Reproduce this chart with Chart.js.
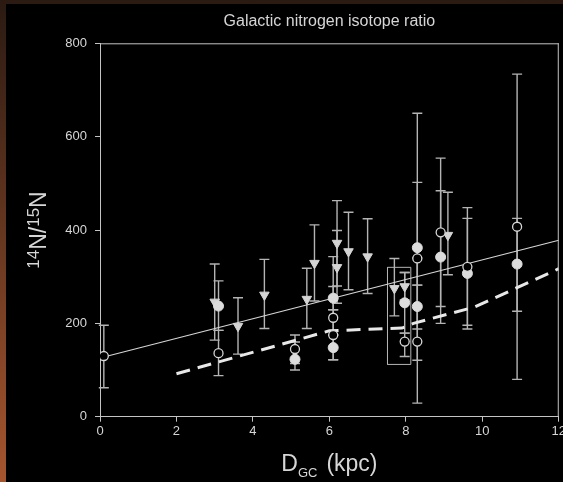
<!DOCTYPE html>
<html>
<head>
<meta charset="utf-8">
<title>Galactic nitrogen isotope ratio</title>
<script src="https://cdn.jsdelivr.net/npm/chart.js@4"></script>
<style>
  html, body { margin: 0; padding: 0; }
  body {
    width: 563px; height: 482px; position: relative; overflow: hidden;
    background: linear-gradient(to bottom, #2a1a12, #a5552e);
  }
  #panel { position: absolute; left: 6px; top: 4px; right: 0; bottom: 0; background: #000; }
  #chart { position: absolute; left: 0; top: 0; }
</style>
</head>
<body>
<div id="panel"></div>
<!-- a little wider than the window so the last x label is cut at the edge, as in the original -->
<canvas id="chart" width="568" height="482"></canvas>
<script>
// open circles
const openX  = [0.1, 3.1, 5.1, 6.1, 6.1, 7.97, 8.3, 8.3, 8.91, 9.61, 10.91];
const openY  = [130, 136, 145, 212, 175, 161, 339, 161, 395, 321, 407];
const openLo = [62, 88, 114, 175, 122, 129, 188, 29, 236, 196, 80];
const openHi = [196, 185, 175, 343, 229, 179, 502, 282, 554, 448, 734];

// filled circles
const fillX  = [3.1, 5.1, 6.1, 6.1, 7.97, 8.3, 8.3, 8.91, 9.61, 10.91];
const fillY  = [237, 123, 254, 148, 244, 362, 236, 342, 307, 327];
const fillLo = [185, 100, 229, 122, 179, 282, 121, 200, 188, 226];
const fillHi = [291, 160, 279, 175, 309, 650, 340, 484, 425, 425];

// triangles
const triX  = [3.0, 3.61, 4.3, 5.41, 5.61, 6.2, 6.2, 6.5, 7.0, 7.7, 7.97, 9.1];
const triY  = [246, 194, 261, 252, 329, 372, 320, 354, 343, 275, 279, 389];
const triLo = [164, 134, 189, 189, 248, 280, 243, 272, 264, 216, 250, 304];
const triHi = [327, 255, 337, 318, 411, 463, 399, 438, 424, 339, 309, 481];

// linear fit and model curve
const fitX = [0.1, 12];
const fitY = [128, 378];
const modelX = [2, 6, 7.9, 8.2, 9.8, 12];
const modelY = [92, 184, 190, 200, 235, 317];

// box around the local value
const boxX = [7.52, 8.13, 8.13, 7.52, 7.52];
const boxY = [112, 112, 320, 320, 112];

const xTicks = [0, 2, 4, 6, 8, 10, 12];
const yTicks = [0, 200, 400, 600, 800];

const fg = '#d6d6d6';
const axisColor = '#c4c4c4';
const font = 'Liberation Sans, Arial, Helvetica, sans-serif';

function pts(xs, ys) {
    return xs.map((v, i) => ({ x: v, y: ys[i] }));
}

// error bars drawn under the markers
const errorBars = {
    id: 'errorBars',
    beforeDatasetsDraw(chart) {
        const { ctx, scales: { x, y } } = chart;
        ctx.save();
        ctx.strokeStyle = '#b4b4b4';
        ctx.lineWidth = 1.4;
        chart.data.datasets.forEach(ds => {
            if (!ds.errLo) return;
            ds.data.forEach((p, i) => {
                const px = x.getPixelForValue(p.x);
                const lo = y.getPixelForValue(ds.errLo[i]);
                const hi = y.getPixelForValue(ds.errHi[i]);
                ctx.beginPath();
                ctx.moveTo(px, lo); ctx.lineTo(px, hi);
                ctx.moveTo(px - 5, lo); ctx.lineTo(px + 5, lo);
                ctx.moveTo(px - 5, hi); ctx.lineTo(px + 5, hi);
                ctx.stroke();
            });
        });
        ctx.restore();
    }
};

// frame, title and axis titles
const texts = {
    id: 'texts',
    afterDraw(chart) {
        const { ctx, chartArea: a } = chart;
        ctx.save();
        ctx.strokeStyle = axisColor;
        ctx.lineWidth = 1;
        ctx.beginPath();
        ctx.moveTo(a.left, a.top + 0.5); ctx.lineTo(a.right, a.top + 0.5);
        ctx.moveTo(a.right - 0.5, a.top); ctx.lineTo(a.right - 0.5, a.bottom);
        ctx.stroke();

        ctx.fillStyle = fg;
        ctx.textBaseline = 'alphabetic';

        // title
        ctx.font = '16px ' + font;
        ctx.textAlign = 'center';
        ctx.fillText('Galactic nitrogen isotope ratio', (a.left + a.right) / 2, 26);

        // x title: D_GC (kpc)
        ctx.textAlign = 'left';
        const big = '23px ' + font, small = '13px ' + font;
        ctx.font = big;
        const wD = ctx.measureText('D').width;
        const wK = ctx.measureText('(kpc)').width;
        ctx.font = small;
        const wG = ctx.measureText('GC').width;
        let sx = (a.left + a.right) / 2 - (wD + wG + 9 + wK) / 2;
        ctx.font = big; ctx.fillText('D', sx, 471);
        ctx.font = small; ctx.fillText('GC', sx + wD, 477);
        ctx.font = big; ctx.fillText('(kpc)', sx + wD + wG + 9, 471);

        // y title: 14N/15N, rotated
        const parts = [['14', '17px', -7], ['N/', '23px', 0], ['15', '17px', -7], ['N', '23px', 0]];
        let total = 0;
        parts.forEach(p => { ctx.font = p[1] + ' ' + font; p.push(ctx.measureText(p[0]).width); total += p[3]; });
        ctx.translate(46, (a.top + a.bottom) / 2);
        ctx.rotate(-Math.PI / 2);
        let tx = -total / 2;
        parts.forEach(p => {
            ctx.font = p[1] + ' ' + font;
            ctx.fillText(p[0], tx, p[2]);
            tx += p[3];
        });
        ctx.restore();
    }
};

new Chart(document.getElementById('chart'), {
    type: 'scatter',
    data: {
        datasets: [
            {
                data: pts(openX, openY), errLo: openLo, errHi: openHi,
                pointStyle: 'circle', pointRadius: 4.5, pointBorderWidth: 1.3,
                pointBackgroundColor: '#000', pointBorderColor: fg
            },
            {
                data: pts(fillX, fillY), errLo: fillLo, errHi: fillHi,
                pointStyle: 'circle', pointRadius: 5, pointBorderWidth: 1,
                pointBackgroundColor: '#dcdcdc', pointBorderColor: '#dcdcdc'
            },
            {
                data: pts(triX, triY), errLo: triLo, errHi: triHi,
                pointStyle: 'triangle', rotation: 180, pointRadius: 5.5, pointBorderWidth: 1,
                pointBackgroundColor: '#d4d4d4', pointBorderColor: '#d4d4d4'
            },
            {
                data: pts(fitX, fitY), showLine: true, pointRadius: 0,
                borderColor: fg, borderWidth: 1.1
            },
            {
                data: pts(modelX, modelY), showLine: true, pointRadius: 0,
                borderColor: '#e8e8e8', borderWidth: 3, borderDash: [14, 8]
            },
            {
                data: pts(boxX, boxY), showLine: true, pointRadius: 0,
                borderColor: '#b4b4b4', borderWidth: 1
            }
        ]
    },
    options: {
        responsive: false,
        animation: false,
        devicePixelRatio: 1,
        layout: { padding: { top: 43.3, right: 0, bottom: 0, left: 0 } },
        plugins: { legend: { display: false }, tooltip: { enabled: false } },
        scales: {
            x: {
                type: 'linear', min: 0, max: 12,
                afterBuildTicks: s => { s.ticks = xTicks.map(v => ({ value: v })); },
                ticks: { color: fg, font: { family: font, size: 13 }, padding: 2, maxRotation: 0 },
                grid: { drawOnChartArea: false, tickLength: 5, color: axisColor },
                border: { color: axisColor, width: 1 },
                afterFit: s => { s.height = 65.3; }
            },
            y: {
                type: 'linear', min: 0, max: 800,
                afterBuildTicks: s => { s.ticks = yTicks.map(v => ({ value: v })); },
                ticks: { color: fg, font: { family: font, size: 13 }, padding: 8 },
                grid: { drawOnChartArea: false, tickLength: 5, color: axisColor },
                border: { color: axisColor, width: 1 },
                afterFit: s => { s.width = 100; s.paddingTop = 0; s.paddingBottom = 0; }
            }
        }
    },
    plugins: [errorBars, texts]
});
</script>
</body>
</html>
